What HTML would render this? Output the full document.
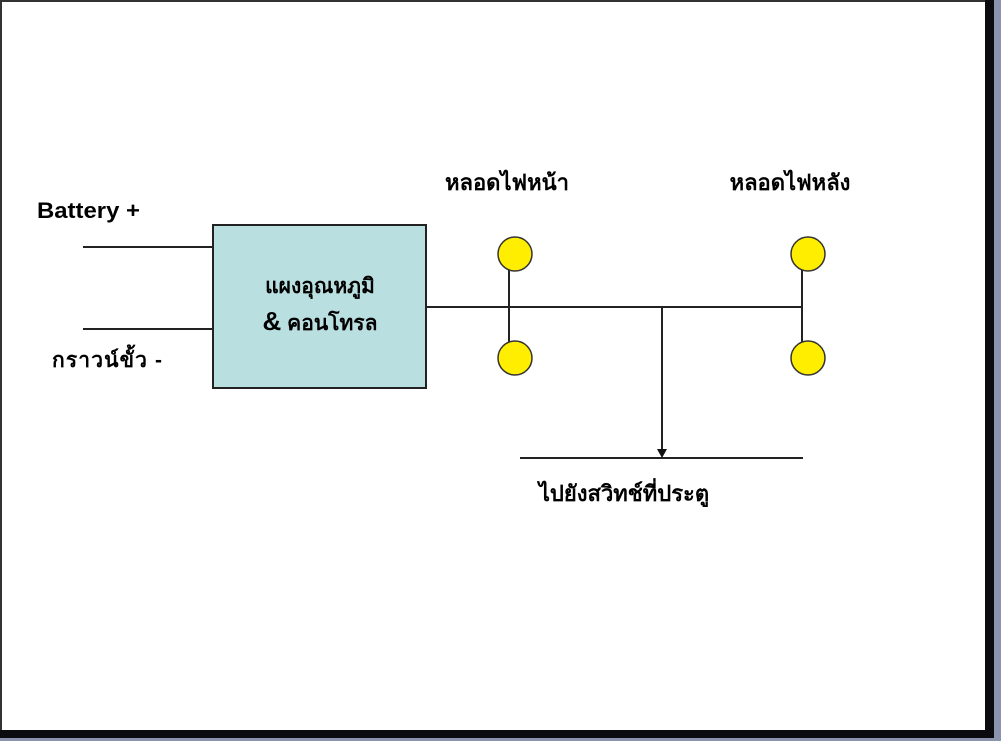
<!DOCTYPE html>
<html><head><meta charset="utf-8"><style>
html,body{margin:0;padding:0;background:#fff;}
body{width:1001px;height:741px;overflow:hidden;position:relative;}
</style></head><body>
<svg width="1001" height="741" viewBox="0 0 1001 741" xmlns="http://www.w3.org/2000/svg" style="position:absolute;left:0;top:0">
<rect x="0" y="0" width="1001" height="741" fill="#fff"/>
<rect x="0" y="0" width="1001" height="2" fill="#333"/>
<rect x="0" y="0" width="2" height="741" fill="#333"/>
<rect x="985" y="0" width="9" height="738" fill="#0c0c10"/>
<rect x="0" y="730" width="994" height="8" fill="#0c0c10"/>
<rect x="994" y="0" width="7" height="741" fill="#8c93ac"/>
<rect x="0" y="738" width="1001" height="3" fill="#8c93ac"/>
<g stroke="#222" stroke-width="2" fill="none">
<line x1="83" y1="247" x2="213" y2="247"/>
<line x1="83" y1="329" x2="213" y2="329"/>
<line x1="426" y1="307" x2="803" y2="307"/>
<line x1="509" y1="262" x2="509" y2="350"/>
<line x1="802" y1="262" x2="802" y2="350"/>
<line x1="662" y1="307" x2="662" y2="450"/>
<line x1="520" y1="458" x2="803" y2="458"/>
</g>
<polygon points="657,449 667,449 662,458" fill="#111"/>
<rect x="213" y="225" width="213" height="163" fill="#b9dfe1" stroke="#222" stroke-width="2"/>
<g fill="#ffee00" stroke="#333" stroke-width="1.5">
<circle cx="515" cy="254" r="17"/>
<circle cx="515" cy="358" r="17"/>
<circle cx="808" cy="254" r="17"/>
<circle cx="808" cy="358" r="17"/>
</g>
<g font-family="'Liberation Sans', 'DejaVu Sans', sans-serif" font-weight="bold" fill="#000">
<text x="37" y="218" font-size="22" textLength="103" lengthAdjust="spacingAndGlyphs">Battery +</text>
<text x="52" y="367" font-size="21" textLength="110" lengthAdjust="spacing">กราวน์ขั้ว  -</text>
<text x="320" y="293" font-size="21" text-anchor="middle">แผงอุณหภูมิ</text>
<text x="320" y="330" font-size="21" text-anchor="middle"><tspan font-size="26">&amp;</tspan> คอนโทรล</text>
<text x="507" y="190" font-size="22" text-anchor="middle">หลอดไฟหน้า</text>
<text x="790" y="190" font-size="22" text-anchor="middle">หลอดไฟหลัง</text>
<text x="624" y="501" font-size="22" text-anchor="middle">ไปยังสวิทช์ที่ประตู</text>
</g>
</svg>
</body></html>
